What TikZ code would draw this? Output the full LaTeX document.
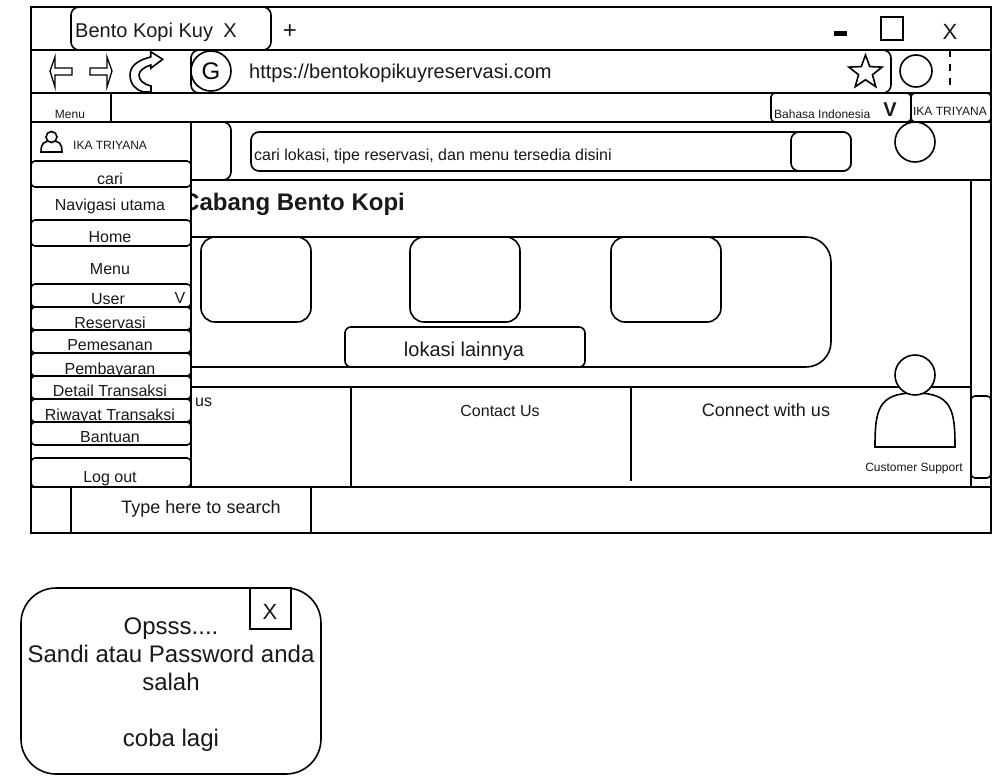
\documentclass[tikz,border=0pt]{standalone}
\usepackage{fontspec}
\setmainfont{Liberation Sans}
\usetikzlibrary{shapes.geometric}
\newcommand{\fs}[1]{\fontsize{#1}{#1}\selectfont}
\tikzset{
  wf/.style={draw=black,line width=1.6pt,fill=white},
  ln/.style={draw=black,line width=1.6pt},
  rc/.style={rounded corners=#1},
  rc/.default=6pt,
  tx/.style={text=black!90,inner sep=0pt,anchor=base},
  txl/.style={text=black!90,inner sep=0pt,anchor=base west},
}
\newcommand{\sideitem}[4]{% top, bottom, baseline, text
  \draw[wf,rc=4pt] (31,#1) rectangle (191,#2);
  \node[tx] at (110,#3) {\fs{16}#4};
}
\begin{document}
\begin{tikzpicture}[x=1pt,y=-1pt]
\useasboundingbox (0,0) rectangle (994,776);
\fill[white] (0,0) rectangle (994,776);
% window
\draw[ln] (31,7) rectangle (991,533);
% tab bar
\draw[wf,rc=8pt] (71,7) rectangle (271,50);
\node[txl] (tabt) at (75,38) {\fs{20}Bento Kopi Kuy};
\node[tx] (tabx) at (230,38) {\fs{20}X};
\node[tx] (plus) at (290,39) {\fs{24}+};
\fill[black] (834,31) rectangle (847,36);
\draw[ln,fill=white] (881,17) rectangle (903,40);
\node[tx] (winx) at (950,40) {\fs{22}X};
\draw[ln] (31,50) -- (991,50);
% address bar
\draw[wf,rc=8pt] (191,50) rectangle (891,93);
\node[draw=black,line width=1.6pt,circle,minimum size=40pt,inner sep=0pt] (g) at (211,71) {\fs{24}G};
\node[txl] (url) at (249,78) {\fs{20}https://bentokopikuyreservasi.com};
\node[draw=black,line width=1.6pt,star,star points=5,star point ratio=2.4,minimum size=35pt,inner sep=0pt] (star) at (865.5,72.5) {};
\node[draw=black,line width=1.6pt,circle,minimum size=32pt,inner sep=0pt] (prof) at (916,71) {};
\draw[ln,dashed,dash pattern=on 7pt off 7pt] (950,50) -- (950,93);
% nav arrows
\draw[ln,line width=1.3pt,line join=miter] (50,71) -- (55,57) -- (55,68) -- (72,68) -- (72,75) -- (55,75) -- (55,87) -- cycle;
\draw[ln,line width=1.3pt,line join=miter] (112,71) -- (107,57) -- (107,68) -- (90,68) -- (90,75) -- (107,75) -- (107,87) -- cycle;
\draw[ln,line join=miter] (162.7,59.3) -- (150.7,51.7) -- (150.7,57) .. controls (138,60) and (130,66) .. (130,75) .. controls (130,84) and (136,90) .. (143,92) -- (151,92) -- (151,86) .. controls (143,84) and (139,80) .. (139,75) .. controls (139,71) and (144,67) .. (150.7,65) -- (150.7,68.3) -- cycle;
\draw[ln] (31,93) -- (991,93);
% menu strip
\draw[ln] (31,93) rectangle (111,122);
\node[tx] (menu) at (70,118) {\fs{12}Menu};
\draw[ln] (31,122) -- (991,122);
\draw[wf,rc=4pt] (771,93) rectangle (911,122);
\node[txl] (bahasa) at (774,118) {\fs{12}Bahasa Indonesia};
\node[tx] (v) at (890,117) {\fs{20}\bfseries V};
\draw[wf,rc=4pt] (911,93) rectangle (991,122);
\node[tx] (ika) at (950,116) {\fs{12}IKA TRIYANA};
\node[draw=black,line width=1.6pt,fill=white,circle,minimum size=40pt,inner sep=0pt] (avatar) at (915,142) {};
% search row
\draw[wf,rc=8pt] (171,122) rectangle (231,180);
\draw[wf,rc=8pt] (251,132) rectangle (851,171);
\node[txl] (search) at (254,160) {\fs{16}cari lokasi, tipe reservasi, dan menu tersedia disini};
\draw[wf,rc=8pt] (791,132) rectangle (851,171);
\draw[ln] (191,180) -- (991,180);
% content
\node[txl] (cabang) at (182,210) {\fs{24}\bfseries Cabang Bento Kopi};
\draw[ln] (971,180) -- (971,487);
\draw[wf,rc=4pt] (971,396) rectangle (991,478);
\draw[wf,rc=25pt] (161,237) rectangle (831,367);
\draw[wf,rc=14pt] (201,237) rectangle (311,322);
\draw[wf,rc=14pt] (410,237) rectangle (520,322);
\draw[wf,rc=14pt] (611,237) rectangle (721,322);
\draw[wf,rc=6pt] (345,327) rectangle (585,367);
\node[tx] (lain) at (464,356) {\fs{20}lokasi lainnya};
% footer
\draw[ln] (191,387) -- (971,387);
\draw[ln] (351,387) -- (351,487);
\draw[ln] (631,387) -- (631,481);
\node[txl] (us) at (195,406) {\fs{16}us};
\node[tx] (contact) at (500,416) {\fs{16}Contact Us};
\node[tx] (connect) at (766,416) {\fs{18}Connect with us};
\draw[wf,line join=miter] (875,447) .. controls (875,410) and (878,393) .. (915,393) .. controls (952,393) and (955,410) .. (955,447) -- cycle;
\node[draw=black,line width=1.6pt,fill=white,circle,minimum size=40pt,inner sep=0pt] (cs) at (915,375) {};
\node[tx] (cst) at (914,471) {\fs{12}Customer Support};
% sidebar
\draw[wf] (31,122) rectangle (191,487);
\draw[wf] (41,152) .. controls (41,143) and (44,141) .. (51.5,141) .. controls (59,141) and (62,143) .. (62,152) -- cycle;
\node[draw=black,line width=1.6pt,fill=white,circle,minimum size=11pt,inner sep=0pt] (ic) at (51.5,137) {};
\node[txl] (ikas) at (73,149) {\fs{12}IKA TRIYANA};
\sideitem{161}{187}{184}{cari}
\node[tx] (nav) at (110,210) {\fs{16}Navigasi utama};
\sideitem{220}{246}{242}{Home}
\node[tx] (mn) at (110,274) {\fs{16}Menu};
\sideitem{284}{307}{304}{\hspace*{-4pt}User}
\node[tx] (uv) at (180,303) {\fs{16}V};
\sideitem{307}{330}{328}{Reservasi}
\sideitem{330}{353}{350}{Pemesanan}
\sideitem{353}{376}{374}{Pembayaran}
\sideitem{376}{399}{396}{Detail Transaksi}
\sideitem{399}{422}{420}{Riwayat Transaksi}
\sideitem{422}{445}{442}{Bantuan}
\sideitem{458}{487}{482}{Log out}
% taskbar
\draw[ln] (31,487) -- (991,487);
\draw[ln] (71,487) rectangle (311,533);
\node[tx] (type) at (201,513) {\fs{18}Type here to search};
% popup
\draw[wf,rc=35pt] (21,588) rectangle (321,774);
\draw[wf] (250,588) rectangle (291,629);
\node[tx] (px) at (270,619) {\fs{22}X};
\node[tx] (p1) at (171,634) {\fs{24}Opsss....};
\node[tx] (p2) at (171,662) {\fs{24}Sandi atau Password anda};
\node[tx] (p3) at (171,690) {\fs{24}salah};
\node[tx] (p4) at (171,746) {\fs{24}coba lagi};
\end{tikzpicture}
\end{document}
